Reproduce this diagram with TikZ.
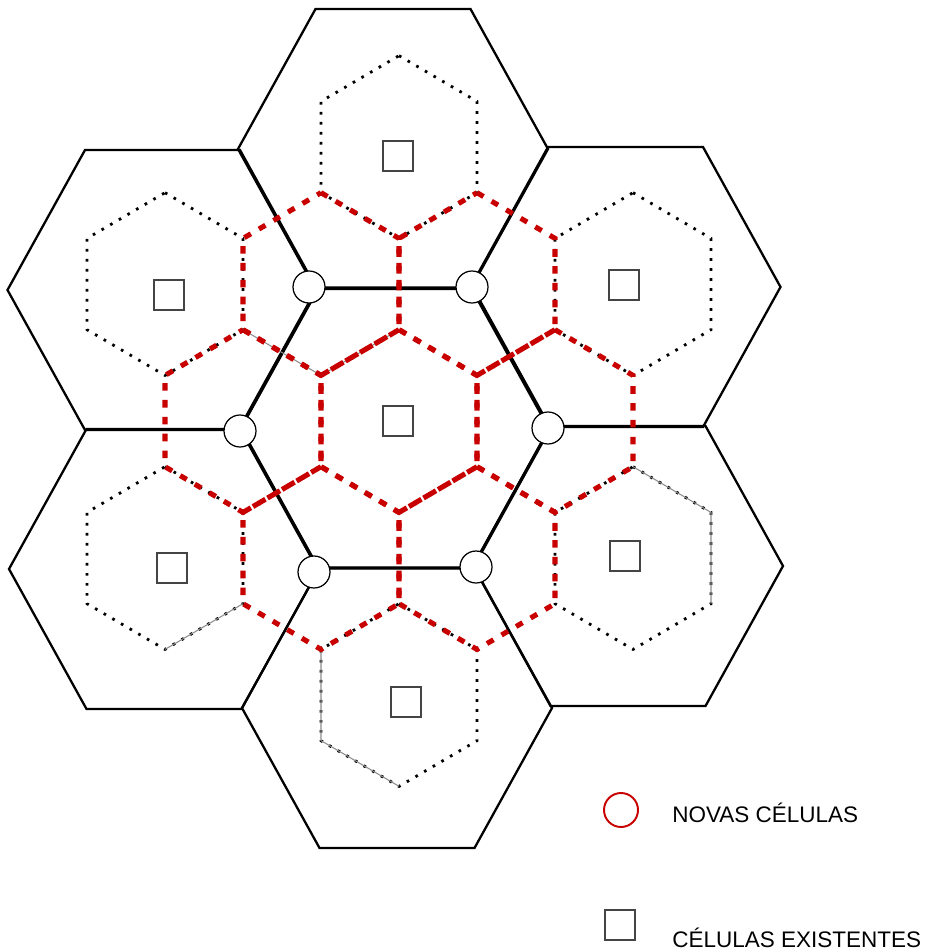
\documentclass[tikz,border=0pt]{standalone}
\usepackage{fontspec}
\setmainfont{Liberation Sans}
\usepackage{xcolor}
\usepackage{tikz}
\definecolor{NewRed}{HTML}{C80000}
\definecolor{SquareGray}{HTML}{444444}
\definecolor{GhostGray}{HTML}{8C8C8C}

\begin{document}
\begin{tikzpicture}[
  x=0.02cm, y=-0.02cm,
  bighex/.style={draw=black, line width=1.3pt, line join=miter},
  corehex/.style={bighex, line width=1.8pt},
  oldcell/.style={draw=black, line width=1.6pt, dash pattern=on 1.5pt off 4.2pt},
  newcell/.style={draw=NewRed, line width=2.9pt, dash pattern=on 4.3pt off 5.3pt},
  ghost/.style={draw=GhostGray, line width=0.6pt},
  site/.style={circle, draw=black, line width=0.7pt, fill=white, minimum size=0.64cm, inner sep=0pt},
  bts/.style={rectangle, draw=SquareGray, line width=0.8pt, fill=white, minimum size=0.6cm, inner sep=0pt},
  legtext/.style={anchor=base west, font=\fontsize{12.8}{15}\selectfont, inner sep=0pt}
]
\useasboundingbox (0,0) rectangle (930,952);

% big cells
\foreach \cx/\cy in {393/149, 162.5/290, 625.5/287, 164/569, 628/566, 397/708}
  \draw[bighex] (\cx,\cy) ++(-155,0) -- ++(77.5,-140) -- ++(155,0) -- ++(77.5,140)
    -- ++(-77.5,140) -- ++(-155,0) -- cycle;
\draw[corehex] (395,428) ++(-155,0) -- ++(77.5,-140) -- ++(155,0) -- ++(77.5,140)
    -- ++(-77.5,140) -- ++(-155,0) -- cycle;

% small cell centres
\coordinate (s-c) at (399,421);
\coordinate (s-ul) at (321,284);
\coordinate (s-ur) at (477,284);
\coordinate (s-l) at (243,421);
\coordinate (s-r) at (555,421);
\coordinate (s-ll) at (321,558);
\coordinate (s-lr) at (477,558);
\coordinate (o-t) at (399,147);
\coordinate (o-ul) at (165,284);
\coordinate (o-ur) at (633,284);
\coordinate (o-bl) at (165,558);
\coordinate (o-br) at (633,558);
\coordinate (o-b) at (399,695);

% existing small cells
\foreach \c in {o-t, o-ul, o-ur, o-bl, o-br, o-b}
  \draw[oldcell] (\c) ++(0,-91.3) -- ++(78,45.7) -- ++(0,91.3) -- ++(-78,45.7)
    -- ++(-78,-45.7) -- ++(0,-91.3) -- cycle;

\draw[ghost] (s-ul) ++(-78,45.7) -- ++(78,45.7) -- ++(78,-45.7);
\draw[ghost] (o-br) ++(0,-91.3) -- ++(78,45.7) -- ++(0,91.3);
\draw[ghost] (o-bl) ++(78,45.7) -- ++(-78,45.7);
\draw[ghost] (o-b) ++(-78,-45.7) -- ++(0,91.3) -- ++(78,45.7);

% new cells
\foreach \c in {s-c, s-ul, s-ur, s-l, s-r, s-ll, s-lr}
  \draw[newcell] (\c) ++(0,-91.3) -- ++(78,45.7) -- ++(0,91.3) -- ++(-78,45.7)
    -- ++(-78,-45.7) -- ++(0,-91.3) -- cycle;

% new sites
\node[site] (site-ul) at (309,287) {};
\node[site] (site-ur) at (472,287) {};
\node[site] (site-l) at (240,431) {};
\node[site] (site-r) at (548,428) {};
\node[site] (site-ll) at (314,572) {};
\node[site] (site-lr) at (476,567) {};

% existing base stations
\node[bts] (bts-t) at (398,156) {};
\node[bts] (bts-ul) at (169,295) {};
\node[bts] (bts-ur) at (624,285) {};
\node[bts] (bts-c) at (398,421) {};
\node[bts] (bts-bl) at (172,568) {};
\node[bts] (bts-br) at (625,556) {};
\node[bts] (bts-b) at (406,702) {};

% legend
\node[circle, draw=NewRed, line width=1.1pt, minimum size=0.68cm, inner sep=0pt] (leg-new) at (621,810) {};
\node[legtext] (leg-new-text) at (672,822) {NOVAS CÉLULAS};
\node[bts] (leg-old) at (620,925) {};
\node[legtext] (leg-old-text) at (672,947) {CÉLULAS EXISTENTES};
\end{tikzpicture}
\end{document}
